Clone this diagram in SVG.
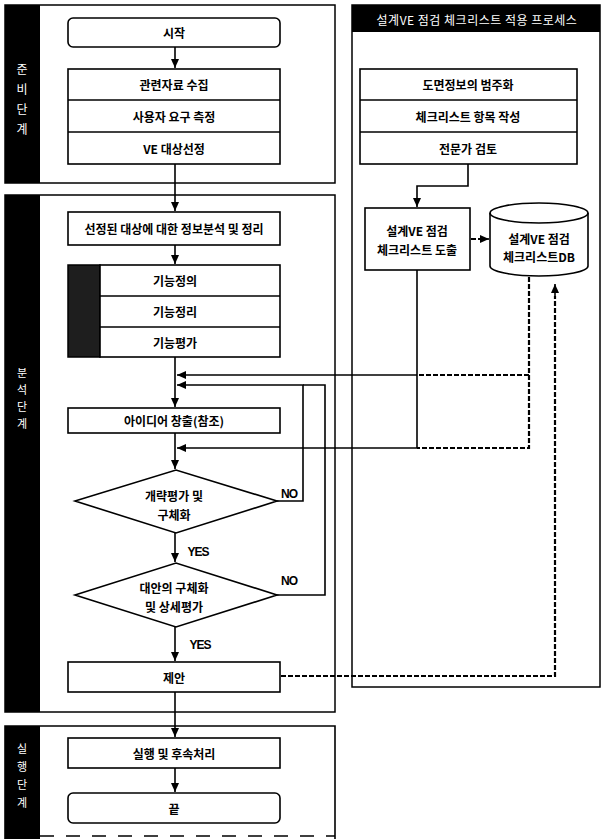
<svg xmlns="http://www.w3.org/2000/svg" width="603" height="839" viewBox="0 0 603 839">
<style>
.frame{fill:#fff;stroke:#000;stroke-width:1.5}
.bar{fill:#000}
.box{fill:#fff;stroke:#000;stroke-width:1.6}
.t{font-family:"Noto Sans CJK KR","Noto Sans",sans-serif;font-weight:bold;font-size:12px;text-anchor:middle;dominant-baseline:central;fill:#000}
.w{fill:#fff;font-weight:normal}
.v{font-size:11px}
.ln{fill:none;stroke:#000;stroke-width:1.6}
.dl{fill:none;stroke:#000;stroke-width:2.2;stroke-dasharray:5 2}
.lbl{font-family:"Liberation Sans",sans-serif;font-weight:bold;font-size:12px;text-anchor:middle;dominant-baseline:central;letter-spacing:-1px}
</style>
<defs>
<marker id="ah" markerUnits="userSpaceOnUse" markerWidth="10" markerHeight="10" refX="9" refY="5" orient="auto">
<path d="M0,1 L9,5 L0,9 z" fill="#000"/>
</marker>
</defs>
<rect width="603" height="839" fill="#fff"/>

<g id="phase-prep">
<rect class="frame" x="5" y="5" width="330" height="178"/>
<rect class="bar" x="5" y="5" width="35" height="178"/>
<text class="t w" font-size="13"><tspan x="22" y="68">준</tspan><tspan x="22" y="88">비</tspan><tspan x="22" y="108">단</tspan><tspan x="22" y="128">계</tspan></text>
</g>
<g id="phase-analysis">
<rect class="frame" x="5" y="195" width="330" height="517"/>
<rect class="bar" x="5" y="195" width="35" height="517"/>
<text class="t w v"><tspan x="22" y="372">분</tspan><tspan x="22" y="389">석</tspan><tspan x="22" y="406">단</tspan><tspan x="22" y="423">계</tspan></text>
</g>
<g id="phase-exec">
<path class="ln" d="M5,839 V726 H335 V839"/>
<line x1="40" y1="836" x2="335" y2="836" stroke="#000" stroke-width="1.5" stroke-dasharray="14 12"/>
<rect class="bar" x="5" y="726" width="35" height="113"/>
<text class="t w v"><tspan x="22" y="748">실</tspan><tspan x="22" y="766">행</tspan><tspan x="22" y="784">단</tspan><tspan x="22" y="802">계</tspan></text>
</g>
<g id="panel-checklist">
<rect class="frame" x="352" y="5" width="248" height="682"/>
<rect class="bar" x="352" y="5" width="248" height="27"/>
<text class="t w" x="477" y="19" letter-spacing="0.5">설계VE 점검 체크리스트 적용 프로세스</text>
</g>

<g id="connectors">
<path class="ln" d="M175,47 V68" marker-end="url(#ah)"/>
<path class="ln" d="M175,164 V211" marker-end="url(#ah)"/>
<path class="ln" d="M175,245 V264" marker-end="url(#ah)"/>
<path class="ln" d="M175,357 V407" marker-end="url(#ah)"/>
<path class="ln" d="M175,433 V469" marker-end="url(#ah)"/>
<path class="ln" d="M175,533 V562" marker-end="url(#ah)"/>
<path class="ln" d="M175,627 V661" marker-end="url(#ah)"/>
<path class="ln" d="M175,692 V737" marker-end="url(#ah)"/>
<path class="ln" d="M175,768 V792" marker-end="url(#ah)"/>
<path class="ln" d="M277,501 H303 V385 H177" marker-end="url(#ah)"/>
<path class="ln" d="M277,595 H325 V385 H303"/>
<path class="ln" d="M468,164 V186 H417 V207" marker-end="url(#ah)"/>
<path class="ln" d="M417,270 V448"/>
<path class="ln" d="M417,375 H177" marker-end="url(#ah)"/>
<path class="ln" d="M417,448 H177" marker-end="url(#ah)"/>
<path class="dl" d="M529,277 V448 H417"/>
<path class="dl" d="M529,375 H417"/>
<path class="dl" d="M281,676 H555 V296"/>
<path class="ln" d="M555,296 V284" marker-end="url(#ah)"/>
<path class="dl" d="M471,239 H482"/>
<path class="ln" d="M481,239 H489" marker-end="url(#ah)"/>
<text class="lbl" x="198" y="552">YES</text>
<text class="lbl" x="200" y="645">YES</text>
<text class="lbl" x="289" y="494">NO</text>
<text class="lbl" x="289" y="581">NO</text>
</g>

<g id="start">
<rect class="box" x="68" y="18" width="212" height="29" rx="5"/>
<text class="t" x="174" y="32.5">시작</text>
</g>
<g id="prep-steps">
<rect class="box" x="68" y="69" width="212" height="95"/>
<line class="ln" x1="68" y1="100" x2="280" y2="100"/>
<line class="ln" x1="68" y1="132" x2="280" y2="132"/>
<text class="t" x="174" y="84.5">관련자료 수집</text>
<text class="t" x="174" y="116">사용자 요구 측정</text>
<text class="t" x="174" y="148">VE 대상선정</text>
</g>
<g id="analyze-info">
<rect class="box" x="68" y="212" width="212" height="33"/>
<text class="t" x="174" y="228.5">선정된 대상에 대한 정보분석 및 정리</text>
</g>
<g id="function-steps">
<rect x="68" y="265" width="32" height="92" fill="#1e1e1e" stroke="#000" stroke-width="1.5"/>
<rect class="box" x="100" y="265" width="180" height="92"/>
<line class="ln" x1="100" y1="296" x2="280" y2="296"/>
<line class="ln" x1="100" y1="327" x2="280" y2="327"/>
<text class="t" x="175" y="280.5">기능정의</text>
<text class="t" x="175" y="311.5">기능정리</text>
<text class="t" x="175" y="342">기능평가</text>
</g>
<g id="idea">
<rect class="box" x="68" y="408" width="212" height="25"/>
<text class="t" x="174" y="420.5">아이디어 창출(참조)</text>
</g>
<g id="decision-1">
<polygon class="box" points="75,501 176,470 277,501 176,533"/>
<text class="t" x="174" y="495">개략평가 및</text>
<text class="t" x="174" y="514">구체화</text>
</g>
<g id="decision-2">
<polygon class="box" points="75,595 176,563 277,595 176,627"/>
<text class="t" x="174" y="587">대안의 구체화</text>
<text class="t" x="174" y="606">및 상세평가</text>
</g>
<g id="proposal">
<rect class="box" x="68" y="662" width="212" height="30"/>
<text class="t" x="174" y="677">제안</text>
</g>
<g id="execution">
<rect class="box" x="68" y="738" width="212" height="30"/>
<text class="t" x="174" y="753">실행 및 후속처리</text>
</g>
<g id="end">
<rect class="box" x="68" y="793" width="212" height="30" rx="5"/>
<text class="t" x="174" y="808">끝</text>
</g>

<g id="checklist-steps">
<rect class="box" x="360" y="69" width="217" height="95"/>
<line class="ln" x1="360" y1="100" x2="577" y2="100"/>
<line class="ln" x1="360" y1="132" x2="577" y2="132"/>
<text class="t" x="468" y="84.5">도면정보의 범주화</text>
<text class="t" x="468" y="116">체크리스트 항목 작성</text>
<text class="t" x="468" y="148">전문가 검토</text>
</g>
<g id="derive-checklist">
<rect class="box" x="365" y="208" width="105" height="62"/>
<text class="t" x="417" y="230">설계VE 점검</text>
<text class="t" x="417" y="249">체크리스트 도출</text>
</g>
<g id="checklist-db">
<path class="box" d="M490,213 A49,10 0 0 1 588,213 V266 A49,10 0 0 1 490,266 Z"/>
<path class="ln" d="M490,213 A49,10 0 0 0 588,213"/>
<text class="t" x="539" y="238">설계VE 점검</text>
<text class="t" x="539" y="256">체크리스트DB</text>
</g>
</svg>
